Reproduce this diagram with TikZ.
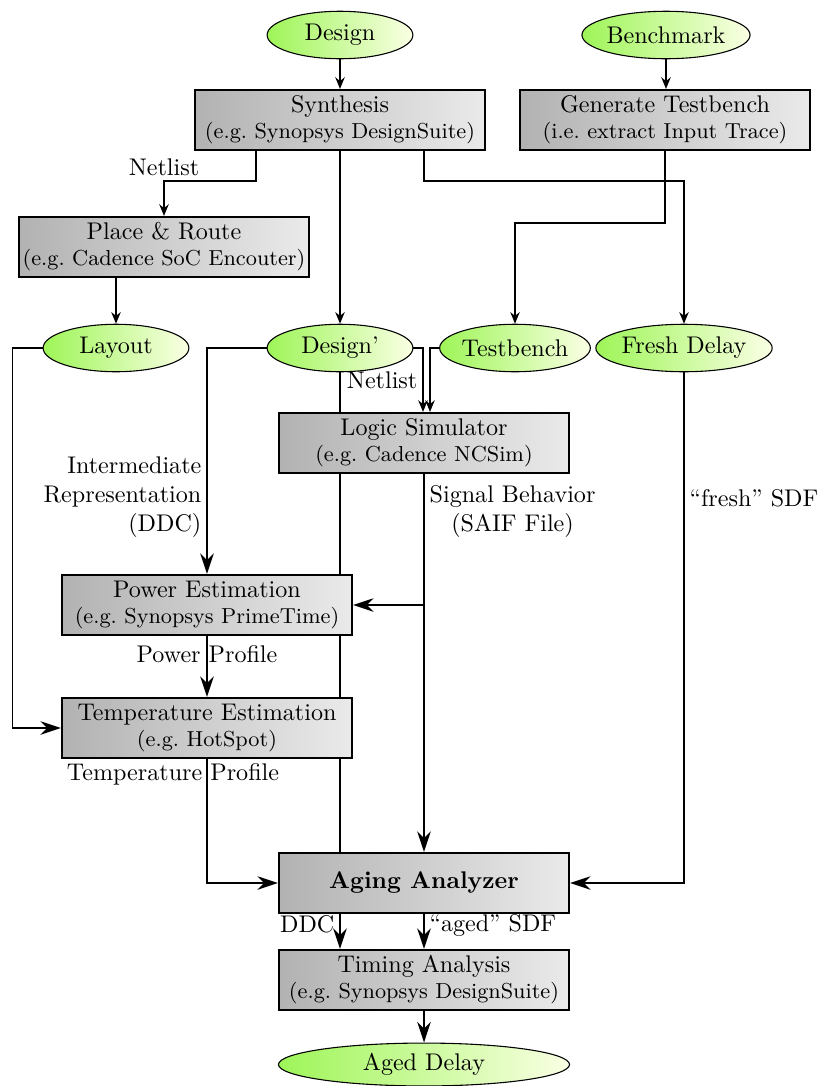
\documentclass[tikz,border=0pt]{standalone}
\usetikzlibrary{shapes.geometric,arrows.meta,calc,backgrounds}
\definecolor{ovalL}{RGB}{158,245,88}
\definecolor{ovalR}{RGB}{250,255,228}
\definecolor{boxL}{RGB}{178,178,178}
\definecolor{boxR}{RGB}{234,234,234}
\begin{document}
\begin{tikzpicture}[x=0.415pt,y=-0.415pt,
  box/.style={rectangle,draw,line width=0.9pt,left color=boxL,right color=boxR,minimum width=120.35pt,minimum height=24.9pt,inner sep=1pt,align=center},
  oval/.style={ellipse,draw,line width=0.45pt,left color=ovalL,right color=ovalR,minimum width=60.5pt,minimum height=19.7pt,inner sep=0pt},
  conn/.style={line width=0.7pt},
  sarr/.style={conn,-{Stealth[length=4.8pt,width=3.9pt]}},
  barr/.style={conn,-{Stealth[length=8.5pt,width=5.6pt]}},
  lab/.style={inner sep=2pt}
]
\useasboundingbox (0,0) rectangle (818,1086);

\node[oval] (design) at (340,35) {Design};
\node[oval] (bench) at (666,35) {Benchmark};
\node[box] (synth) at (340,120) {Synthesis\\[-1.2pt]\small(e.g.\ Synopsys DesignSuite)};
\node[box] (gentb) at (665,120) {Generate Testbench\\[-1.2pt]\small(i.e.\ extract Input Trace)};
\node[box] (pr) at (164,247) {Place \& Route\\[-1.2pt]\small(e.g.\ Cadence SoC Encouter)};
\node[oval] (layout) at (116,348) {Layout};
\node[oval] (designp) at (340,348) {Design'};
\node[oval] (tb) at (515,348) {Testbench};
\node[oval] (fresh) at (684,348) {Fresh Delay};
\node[box] (logic) at (424,443) {Logic Simulator\\[-1.2pt]\small(e.g.\ Cadence NCSim)};
\node[box] (power) at (207,605) {Power Estimation\\[-1.2pt]\small(e.g.\ Synopsys PrimeTime)};
\node[box] (temp) at (207,728) {Temperature Estimation\\[-1.2pt]\small(e.g.\ HotSpot)};
\node[box] (aging) at (424,883) {\bfseries Aging Analyzer};
\node[box] (timing) at (424,980) {Timing Analysis\\[-1.2pt]\small(e.g.\ Synopsys DesignSuite)};
\node[oval,minimum width=120.8pt,minimum height=17.8pt] (aged) at (424,1064.5) {Aged Delay};

\draw[sarr] (design) -- (synth);
\draw[sarr] (bench) -- (bench |- gentb.north);
\draw[sarr] ($(synth.south)+(-84,0)$) -- ++(0,30) -| node[above,lab]{Netlist} (pr.north);
\draw[sarr] (synth) -- (designp);
\draw[sarr] ($(synth.south)+(84,0)$) -- ++(0,30) -| (fresh.north);
\draw[sarr] (gentb.south) -- ++(0,72) -| (tb.north);
\draw[sarr] (layout.north |- pr.south) -- (layout.north);
\draw[sarr] (designp.east) -| node[pos=0.75,left,lab]{Netlist} ($(logic.north)+(-1,0)$);
\draw[sarr] (tb.west) -| ($(logic.north)+(6,0)$);

\begin{pgfonlayer}{background}
\draw[barr] (designp.south) -- (designp.south |- timing.north) node[pos=0.957,left,lab]{DDC};
\end{pgfonlayer}

\draw[barr] (logic) -- (aging) node[pos=0.1,right,align=center,lab]{Signal Behavior\\(SAIF File)};
\draw[barr] (logic.south |- power.east) -- (power.east);
\draw[barr] (designp.west) -| node[pos=0.83,left,align=right,lab]{Intermediate\\Representation\\(DDC)} (power.north);
\draw[barr] (layout.west) -- ++(-30,0) |- (temp.west);
\draw[barr] (power) -- (temp) node[pos=0.29]{Power Profile};
\draw[barr] (temp.south) |- (aging.west) node[pos=0.06,xshift=-14.1pt]{Temperature Profile};
\draw[barr] (fresh.south) |- (aging.east) node[pos=0.123,right,lab]{``fresh'' SDF};
\draw[barr] (aging) -- (timing) node[pos=0.33,right,lab]{``aged'' SDF};
\draw[barr] (timing) -- (aged);
\end{tikzpicture}
\end{document}
